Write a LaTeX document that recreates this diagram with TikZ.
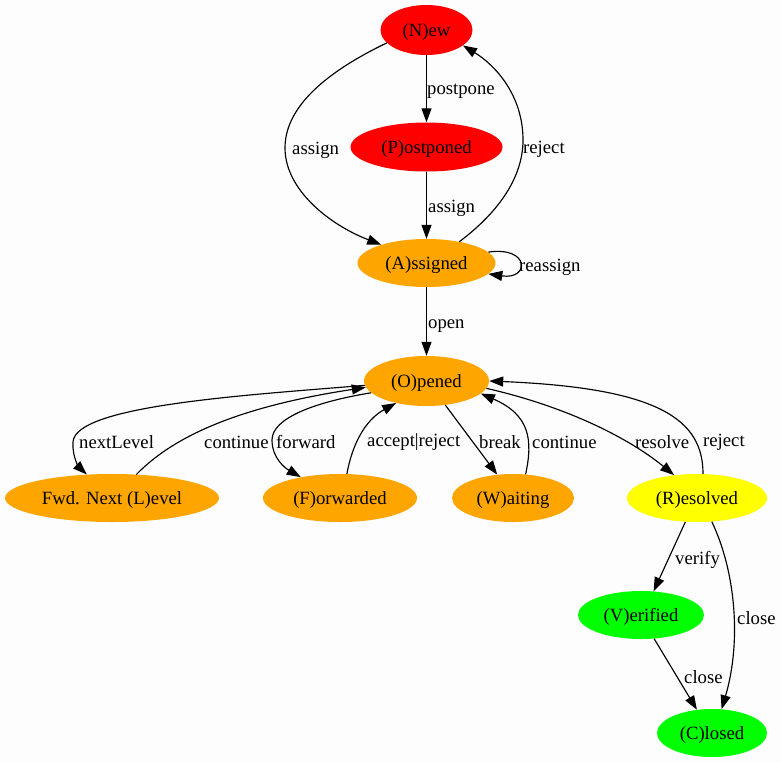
\documentclass[tikz,border=0pt]{standalone}
\usepackage{fontspec}
\setmainfont{Liberation Serif}
\usetikzlibrary{shapes.geometric,arrows.meta}
\definecolor{bg}{RGB}{252,253,252}
\definecolor{gvred}{RGB}{255,0,0}
\definecolor{gvorange}{RGB}{255,165,0}
\definecolor{gvyellow}{RGB}{255,255,0}
\definecolor{gvgreen}{RGB}{0,255,0}
\begin{document}
\begin{tikzpicture}[x=1pt,y=-1pt,
  st/.style={ellipse, inner sep=0pt, font=\fontsize{18.7}{22}\selectfont, minimum height=48pt, text height=16pt, text depth=3pt},
  e/.style={-{Triangle[length=14pt,width=10pt]}, line width=1.15pt},
  lbl/.style={anchor=west, inner sep=0pt, yshift=-2pt, font=\fontsize{18.7}{22}\selectfont}]
\fill[bg] (0,0) rectangle (781,763);
\useasboundingbox (0,0) rectangle (781,763);
% nodes
\node[st, fill=gvred, minimum width=92pt, minimum height=50pt] (N) at (426.5,30) {(N)ew};
\node[st, fill=gvred, minimum width=152pt, minimum height=49pt] (P) at (426.5,147) {(P)ostponed};
\node[st, fill=gvorange, minimum width=138pt] (A) at (426.5,263) {(A)ssigned};
\node[st, fill=gvorange, minimum width=125pt, minimum height=50pt] (O) at (426.5,381) {(O)pened};
\node[st, fill=gvorange, minimum width=214pt] (L) at (112,498) {Fwd. Next (L)evel};
\node[st, fill=gvorange, minimum width=154pt] (F) at (340,498) {(F)orwarded};
\node[st, fill=gvorange, minimum width=122pt] (W) at (513,498) {(W)aiting};
\node[st, fill=gvyellow, minimum width=140pt] (R) at (697,498) {(R)esolved};
\node[st, fill=gvgreen, minimum width=126pt] (V) at (641,615) {(V)erified};
\node[st, fill=gvgreen, minimum width=110pt] (C) at (712,733) {(C)losed};
% edges
\draw[e] (N.198) .. controls (320,75) and (285,110) .. (285,148) .. controls (285,190) and (330,225) .. (A.158);
\draw[e] (N) -- (P);
\draw[e] (P) -- (A);
\draw[e] (A.33) .. controls (495,215) and (523,180) .. (523,140) .. controls (523,95) and (495,65) .. (N.337);
\draw[e] (A.10) .. controls (530,246) and (530,280) .. (A.-10);
\draw[e] (A) -- (O);
\draw[e] (O.184) .. controls (250,395) and (75,405) .. (73,442) .. controls (72,458) and (80,468) .. (L.137);
\draw[e] (L.44) .. controls (170,440) and (230,408) .. (O.186);
\draw[e] (O.192) .. controls (315,402) and (272,418) .. (272,440) .. controls (272,458) and (285,468) .. (F.152);
\draw[e] (F.74) .. controls (352,445) and (365,420) .. (O.216);
\draw[e] (O.308) -- (W.124);
\draw[e] (W.62) .. controls (533,440) and (530,415) .. (O.347);
\draw[e] (O.353) .. controls (560,405) and (625,435) .. (R.135);
\draw[e] (R.76) .. controls (703,420) and (660,388) .. (O.0);
\draw[e] (R.244) -- (V.62);
\draw[e] (R.302) .. controls (735,570) and (742,640) .. (C.68);
\draw[e] (V.299) -- (C.123);
% labels
\node[lbl] (l1) at (427,89) {postpone};
\node[lbl] (l2) at (292,148) {assign};
\node[lbl] (l3) at (428,206) {assign};
\node[lbl] (l4) at (523,147) {reject};
\node[lbl] (l5) at (519,265) {reassign};
\node[lbl] (l6) at (428,324) {open};
\node[lbl] (l7) at (79,440) {nextLevel};
\node[lbl] (l8) at (204,440) {continue};
\node[lbl] (l9) at (276,440) {forward};
\node[lbl] (l10) at (367,440) {accept|reject};
\node[lbl] (l11) at (479,440) {break};
\node[lbl] (l12) at (532,440) {continue};
\node[lbl] (l13) at (635,440) {resolve};
\node[lbl] (l14) at (703,440) {reject};
\node[lbl] (l15) at (675,558) {verify};
\node[lbl] (l16) at (737,616) {close};
\node[lbl] (l17) at (684,675) {close};
\end{tikzpicture}
\end{document}
